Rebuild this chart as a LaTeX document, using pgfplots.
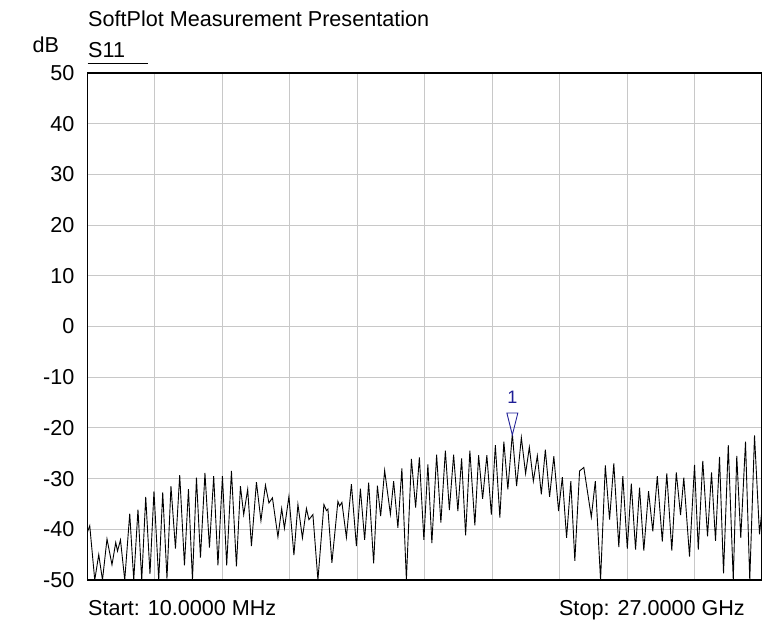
\documentclass[border=0pt]{standalone}
\usepackage{fontspec}
\setmainfont{Liberation Sans}
\usepackage{pgfplots}
\pgfplotsset{compat=1.18}
\definecolor{gridc}{RGB}{200,200,200}
\definecolor{mkc}{RGB}{30,30,150}
\pgfdeclareplotmark{dtri}{%
  \pgfpathmoveto{\pgfpoint{0pt}{0pt}}%
  \pgfpathlineto{\pgfpoint{-5.5pt}{22pt}}%
  \pgfpathlineto{\pgfpoint{5.5pt}{22pt}}%
  \pgfpathclose
  \pgfusepathqstroke}
\begin{document}
\begin{tikzpicture}
\path[use as bounding box] (-87.5pt,-46pt) rectangle (674.5pt,580pt);
\begin{axis}[
  at={(0pt,0pt)}, anchor=south west,
  scale only axis, width=674.5pt, height=507pt,
  xmin=0.01, xmax=27, ymin=-50, ymax=50,
  xtick={0.01,2.709,5.408,8.107,10.806,13.505,16.204,18.903,21.602,24.301,27},
  xticklabels={},
  ytick={-50,-40,-30,-20,-10,0,10,20,30,40,50},
  yticklabels={-50,-40,-30,-20,-10,0,10,20,30,40,50},
  grid=major, major grid style={gridc, line width=1pt},
  major tick length=0pt,
  axis line style={black, line width=1.5pt},
  yticklabel style={font=\fontsize{21.6}{25}\selectfont, anchor=east, inner sep=0pt, xshift=-13pt},
  clip=true,
]
\addplot[black, line width=0.9pt] coordinates {
(0.01,-40.5) (0.10,-39.3) (0.30,-50) (0.46,-45.0) (0.61,-50) (0.79,-41.9)
(0.99,-47.0) (1.14,-42.6) (1.21,-44.3) (1.33,-42.1) (1.50,-50) (1.70,-36.9)
(1.86,-50) (2.03,-36.1) (2.18,-50) (2.34,-33.6) (2.51,-48.8) (2.67,-32.5)
(2.86,-50) (3.02,-32.7) (3.19,-49.7) (3.35,-31.5) (3.53,-43.8) (3.70,-29.3)
(3.89,-47.1) (4.05,-32.1) (4.21,-50) (4.37,-29.8) (4.53,-45.6) (4.71,-28.9)
(4.89,-43.6) (5.06,-29.5) (5.23,-47.1) (5.41,-29.5) (5.58,-47.1) (5.77,-28.5)
(5.97,-47.3) (6.13,-31.5) (6.26,-37.1) (6.42,-32.1) (6.57,-43.3) (6.77,-30.7)
(6.95,-38.3) (7.13,-31.3) (7.27,-34.8) (7.41,-33.8) (7.63,-41.5) (7.78,-35.9)
(7.89,-39.8) (8.07,-33.5) (8.27,-45.1) (8.43,-35.1) (8.61,-41.7) (8.77,-35.9)
(8.87,-38.1) (9.03,-37.1) (9.23,-50) (9.47,-35.1) (9.57,-36.3) (9.63,-36.0)
(9.79,-46.6) (10.03,-34.5) (10.10,-35.4) (10.19,-34.7) (10.37,-41.6) (10.57,-31.1)
(10.77,-43.3) (10.93,-32.0) (11.10,-42.1) (11.26,-30.8) (11.46,-46.7) (11.61,-31.4)
(11.74,-37.4) (11.90,-28.4) (12.13,-37.0) (12.26,-30.5) (12.43,-39.7) (12.59,-28.0)
(12.77,-50) (12.97,-26.1) (13.14,-35.7) (13.29,-25.8) (13.47,-42.1) (13.63,-27.2)
(13.79,-42.7) (13.98,-25.3) (14.15,-38.7) (14.33,-24.5) (14.49,-36.2) (14.66,-25.3)
(14.83,-36.4) (14.98,-26.0) (15.14,-41.2) (15.31,-24.5) (15.51,-39.2) (15.66,-25.4)
(15.82,-34.0) (15.99,-25.4) (16.17,-37.1) (16.33,-23.4) (16.51,-37.7) (16.67,-22.7)
(16.83,-32.1) (17.01,-21.1) (17.18,-31.5) (17.37,-21.9) (17.54,-29.0) (17.69,-23.8)
(17.85,-30.5) (18.01,-25.5) (18.17,-33.1) (18.33,-24.3) (18.50,-33.6) (18.67,-25.6)
(18.86,-36.4) (19.01,-29.7) (19.18,-41.7) (19.35,-30.5) (19.51,-46.2) (19.70,-28.5)
(19.87,-27.8) (20.17,-37.6) (20.33,-30.5) (20.54,-50) (20.73,-27.4) (20.90,-38.1)
(21.07,-27.0) (21.27,-43.5) (21.43,-29.5) (21.61,-43.8) (21.77,-31.0) (21.94,-44.0)
(22.10,-31.8) (22.27,-44.2) (22.46,-32.5) (22.63,-40.4) (22.81,-29.5) (23.01,-42.4)
(23.19,-29.0) (23.39,-44.2) (23.57,-28.8) (23.74,-37.2) (23.87,-29.8) (24.10,-45.4)
(24.30,-27.3) (24.45,-44.0) (24.63,-26.5) (24.82,-41.4) (24.98,-28.8) (25.14,-42.3)
(25.30,-25.7) (25.46,-48.7) (25.65,-23.4) (25.85,-50) (25.99,-25.5) (26.15,-41.7)
(26.34,-22.7) (26.51,-50) (26.70,-21.5) (26.90,-41.0) (27.00,-36.0)
};
\addplot[mkc, only marks, mark=dtri, mark options={line width=0.9pt}] coordinates {(17.01,-21.4)}
  node[mkc, anchor=base, inner sep=0pt, yshift=31pt, font=\fontsize{18}{20}\selectfont] {1};
\end{axis}
\node[anchor=base west, inner sep=0pt, font=\fontsize{21.6}{25}\selectfont] at (0.5pt,553.5pt) {SoftPlot Measurement Presentation};
\node[anchor=base west, inner sep=0pt, font=\fontsize{21.6}{25}\selectfont] at (-55pt,527pt) {dB};
\node[anchor=base west, inner sep=0pt, font=\fontsize{21.6}{25}\selectfont] at (0.5pt,522pt) {S11};
\draw[black, line width=1pt] (0pt,516pt) -- (60pt,516pt);
\node[anchor=base west, inner sep=0pt, font=\fontsize{21.6}{25}\selectfont] at (0.5pt,-35pt) {Start: 10.0000 MHz};
\node[anchor=base east, inner sep=0pt, font=\fontsize{21.6}{25}\selectfont] at (657.5pt,-35pt) {Stop: 27.0000 GHz};
\end{tikzpicture}
\end{document}
